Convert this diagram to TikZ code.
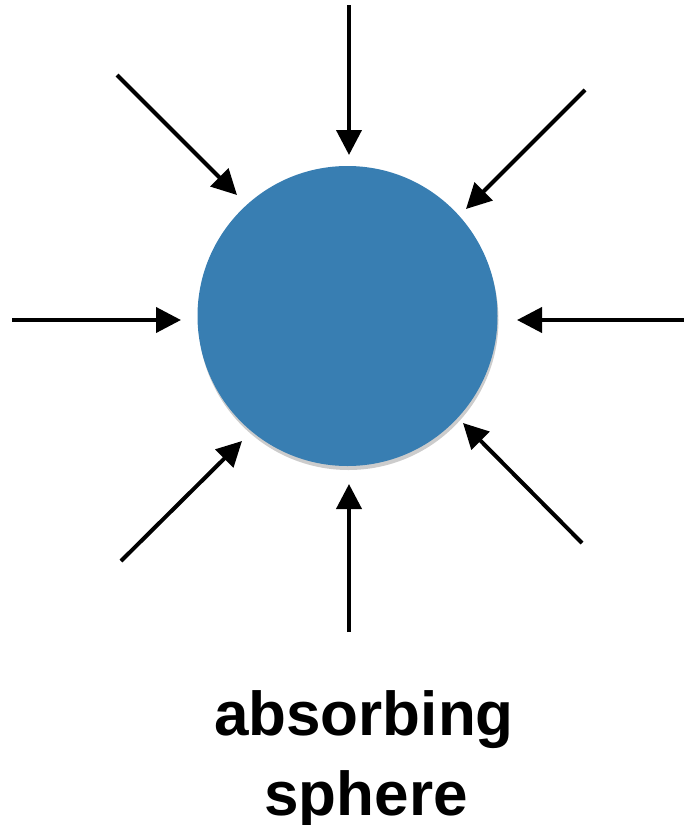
\documentclass[tikz,border=0pt]{standalone}
\usepackage{fontspec}
\setmainfont{Liberation Sans}
\usetikzlibrary{arrows.meta,shadows}
\definecolor{sphereblue}{RGB}{56,126,178}
\tikzset{
  inarrow/.style={line width=4pt, -{Triangle[length=25pt,width=25pt]}},
  sphere/.style={circle, fill=sphereblue, minimum size=300pt, inner sep=0pt,
    drop shadow={shadow xshift=1pt, shadow yshift=-4pt, opacity=0.2, fill=black}},
  lbl/.style={font=\bfseries\fontsize{62}{80}\selectfont, inner sep=0pt, anchor=base}
}
\begin{document}
\begin{tikzpicture}[x=1pt,y=-1pt]
\useasboundingbox (0,0) rectangle (684,825);
\node[sphere] (S) at (347.5,316) {};
% tails
\coordinate (tN) at (349,5);
\coordinate (tS) at (349,632);
\coordinate (tW) at (12,320);
\coordinate (tE) at (684,320);
\coordinate (tNW) at (117,75);
\coordinate (tNE) at (585,90);
\coordinate (tSW) at (121,561);
\coordinate (tSE) at (582,543);
% tips
\coordinate (hN) at (349,155);
\coordinate (hS) at (349,484);
\coordinate (hW) at (181,320);
\coordinate (hE) at (517,320);
\coordinate (hNW) at (237,195);
\coordinate (hNE) at (466,209);
\coordinate (hSW) at (242,441);
\coordinate (hSE) at (463,423);
\foreach \d in {N,S,W,E,NW,NE,SW,SE}{
  \draw[inarrow] (t\d) -- (h\d);
}
\node[lbl] (L1) at (364,735) {absorbing};
\node[lbl] (L2) at (366,815) {sphere};
\end{tikzpicture}
\end{document}
